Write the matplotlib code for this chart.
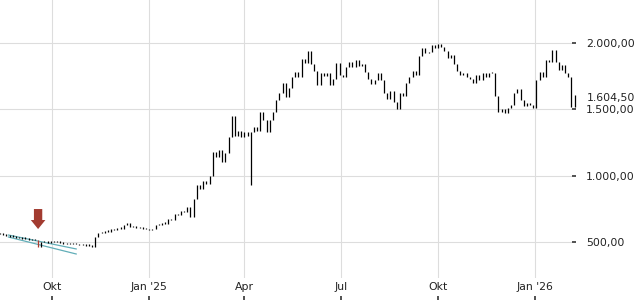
import numpy as np
import pandas as pd
import matplotlib
matplotlib.use("Agg")
import matplotlib.pyplot as plt
from matplotlib.ticker import FuncFormatter

# price closes, one every 3 calendar days starting 13 Aug 2024
start_date = "2024-08-13"
closes = [
    560, 555, 548, 540, 545, 532, 530, 525, 528, 515,
    520, 515, 458, 500, 505, 495, 500, 505, 498, 495,
    488, 485, 490, 482, 488, 478, 485, 472, 475, 462,
    540, 570, 565, 585, 578, 598, 590, 605, 600, 625,
    640, 610, 620, 605, 615, 600, 598, 588, 595, 625,
    630, 645, 638, 675, 665, 710, 700, 730, 722, 762,
    690, 820, 930, 900, 960, 940, 1000, 1180, 1140, 1190,
    1100, 1170, 1290, 1450, 1300, 1340, 1290, 1330, 1300, 1330,
    1370, 1340, 1480, 1420, 1330, 1420, 1480, 1570, 1620, 1700,
    1590, 1660, 1740, 1780, 1745, 1880, 1850, 1940, 1840, 1790,
    1683, 1770, 1750, 1775, 1680, 1730, 1850, 1760, 1745, 1820,
    1855, 1820, 1870, 1830, 1845, 1780, 1730, 1690, 1720, 1770,
    1720, 1625, 1580, 1640, 1555, 1500, 1625, 1600, 1700, 1745,
    1790, 1760, 1900, 1965, 1925, 1935, 1985, 1960, 1990, 1970,
    1940, 1885, 1910, 1840, 1790, 1760, 1775, 1745, 1730, 1700,
    1760, 1720, 1770, 1745, 1770, 1775, 1600, 1480, 1500, 1470,
    1510, 1530, 1620, 1650, 1570, 1525, 1545, 1530, 1510, 1720,
    1780, 1745, 1875, 1860, 1945, 1860, 1800, 1835, 1770, 1740,
    1520, 1604.5,
]
spike_lows = {79: 930}
signal_index = 12
last_price = 1604.5

# trend channel (start date, end date, start value, end value)
channel_dates = ["2024-08-21", "2024-10-24"]
channel_upper = [552, 447]
channel_lower = [537, 409]

# signal arrow (date, tip value, tail value)
arrow_date = "2024-09-18"
arrow_tip = 597
arrow_tail = 748

tick_dates = ["2024-10-01", "2025-01-01", "2025-04-01", "2025-07-01", "2025-10-01", "2026-01-01"]
tick_labels = ["Okt", "Jan '25", "Apr", "Jul", "Okt", "Jan '26"]
y_ticks = [500, 1000, 1500, 2000]

dates = pd.date_range(start_date, periods=len(closes), freq="3D")
cur = np.array(closes, dtype=float)
prev = np.concatenate([[cur[0]], cur[:-1]])
lo = np.minimum(prev, cur)
hi = np.maximum(prev, cur)
for k, v in spike_lows.items():
    lo[k] = min(lo[k], v)
hi = np.maximum(hi, lo + 10)

fig = plt.figure(figsize=(6.4, 3.0), dpi=100)
ax = fig.add_axes([0, 22 / 300, 572 / 640, 278 / 300])

colors = ["black"] * len(cur)
colors[signal_index] = "#b03a2e"
ax.vlines(dates, lo, hi, colors=colors, linewidth=0.9, clip_on=False, zorder=3)

cd = pd.to_datetime(channel_dates)
ax.plot(cd, channel_upper, color="#62aeb8", lw=0.9, zorder=2)
ax.plot(cd, channel_lower, color="#62aeb8", lw=0.9, zorder=2)

ad = pd.Timestamp(arrow_date)
ax.annotate("", xy=(ad, arrow_tip), xytext=(ad, arrow_tail),
            arrowprops=dict(arrowstyle="simple,head_length=0.65,head_width=1.05,tail_width=0.6",
                            mutation_scale=10, color="#a23b30", lw=0, shrinkA=0, shrinkB=0),
            zorder=4)

ax.set_xlim(pd.Timestamp("2024-08-13"), pd.Timestamp("2026-02-04 14:00"))
ax.set_ylim(228, 2324)

td = pd.to_datetime(tick_dates)
ax.set_xticks(td)
ax.set_xticklabels(tick_labels)
ax.set_yticks(y_ticks)


def de_fmt(v, pos=None):
    s = f"{v:,.2f}"
    return s.replace(",", "X").replace(".", ",").replace("X", ".")


ax.yaxis.set_major_formatter(FuncFormatter(de_fmt))
ax.yaxis.tick_right()
ax.tick_params(axis="x", length=0, pad=3, labelsize=7.8, labelcolor="#222222")
ax.tick_params(axis="y", length=3, width=1.2, pad=7, labelsize=7.8,
               color="#333333", labelcolor="#222222")
ax.grid(True, color="#dddddd", lw=0.8)
ax.set_axisbelow(True)
for sp in ax.spines.values():
    sp.set_visible(False)

sec = ax.secondary_xaxis(-22 / 278)
sec.set_xticks(td)
sec.tick_params(direction="in", length=3, width=1.2, color="#333333", labelbottom=False)
sec.spines["bottom"].set_visible(False)

ax.annotate(de_fmt(last_price), xy=(1, last_price), xycoords=ax.get_yaxis_transform(),
            xytext=(10.5, -2), textcoords="offset points", va="center", ha="left",
            fontsize=7.8, color="#222222")

fig.savefig("out.png", dpi=100)
